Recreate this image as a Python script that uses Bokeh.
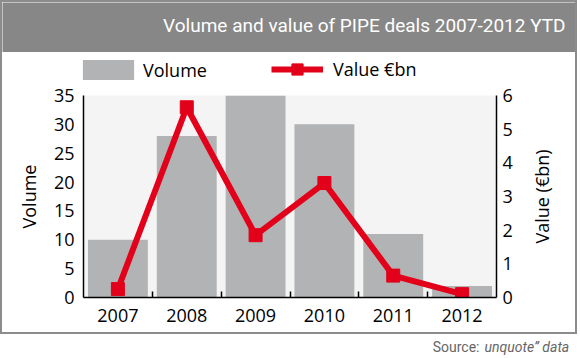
import math
from bokeh.plotting import figure
from bokeh.layouts import column, row
from bokeh.models import (Range1d, LinearAxis, FixedTicker, Legend, LegendItem, Label)
from bokeh.embed import file_html
from bokeh.resources import INLINE

# ---- data ----
years = ["2007", "2008", "2009", "2010", "2011", "2012"]
volume = [10, 28, 35, 30, 11, 2]
value_bn = [0.25, 5.65, 1.85, 3.4, 0.65, 0.1]
volume_ticks = [0, 5, 10, 15, 20, 25, 30, 35]
value_ticks = [0, 1, 2, 3, 4, 5, 6]
title_text = "Volume and value of PIPE deals 2007-2012 YTD"
source_label = "Source:"
source_name = "unquote” data"
series_names = ["Volume", "Value €bn"]
y_title = "Volume"
y2_title = "Value (€bn)"

xs = [i + 0.5 for i in range(len(years))]
boundaries = [i for i in range(1, len(years))]

FONT = "Open Sans"
NARROW = "Roboto"
RED = "#e2001a"
BAR = "#b2b3b4"
HEADER = "#878787"
BOXLINE = "#8c8c8c"

W = 573
MAIN_W = 518
MAIN_H = 249


def blank(height, width=W, bg="white"):
    f = figure(width=width, height=height, output_backend="svg", toolbar_location=None,
               tools="", x_axis_location=None, y_axis_location=None, title_location=None,
               min_border=0, background_fill_color=bg, border_fill_color=bg,
               outline_line_color=None, x_range=Range1d(0, 1), y_range=Range1d(0, 1))
    f.grid.visible = False
    f.frame_align = False
    return f


# ---- header ----
head = blank(50, bg=HEADER)
head.add_layout(Label(x=563, y=27, x_units="screen", y_units="screen", text=title_text,
                      text_align="right", text_baseline="middle", text_color="white",
                      text_font=NARROW, text_font_size="19px"))

# ---- legend strip (hidden copies of the series supply the legend swatches) ----
leg = blank(31)
lg_bar = leg.vbar(x=xs, top=volume, width=0.87, fill_color=BAR, line_color=None, visible=False)
lg_line = leg.line(xs, value_bn, line_color=RED, line_width=6, visible=False)
lg_sq = leg.scatter(xs, value_bn, marker="square", size=12, fill_color=RED, line_color=RED,
                    visible=False)
common = dict(orientation="horizontal", padding=0, margin=0, border_line_color=None,
              background_fill_alpha=0, inactive_fill_alpha=0,
              label_text_font=FONT, label_text_font_size="18px",
              label_text_color="black", label_height=20)
leg.add_layout(Legend(items=[LegendItem(label=series_names[0], renderers=[lg_bar])],
                      location=(74, 1), glyph_width=64, glyph_height=25,
                      label_standoff=3, **common))
leg.add_layout(Legend(items=[LegendItem(label=series_names[1], renderers=[lg_line, lg_sq])],
                      location=(269, 0), glyph_width=52, glyph_height=28,
                      label_standoff=10, **common))

# ---- main chart ----
p = figure(width=MAIN_W, height=MAIN_H, output_backend="svg", toolbar_location=None, tools="",
           title_location=None,
           x_range=Range1d(0, len(years)), y_range=Range1d(volume_ticks[0], volume_ticks[-1]),
           min_border_left=81, min_border_right=24, min_border_top=12, min_border_bottom=35,
           background_fill_color="#f4f4f4", border_fill_color="white",
           outline_line_color=None)
p.xgrid.visible = False
p.ygrid.visible = False
p.extra_y_ranges = {"val": Range1d(value_ticks[0], value_ticks[-1])}

bars = p.vbar(x=xs, top=volume, width=0.87, fill_color=BAR, line_color=None)
ln = p.line(xs, value_bn, y_range_name="val", line_color=RED, line_width=6)
sq = p.scatter(xs, value_bn, y_range_name="val", marker="square", size=13,
               fill_color=RED, line_color=RED)

# x axis
xa = p.xaxis[0]
xa.ticker = FixedTicker(ticks=xs, minor_ticks=boundaries)
xa.major_label_overrides = {x: y for x, y in zip(xs, years)}
xa.major_tick_in = 0
xa.major_tick_out = 0
xa.minor_tick_in = 6
xa.minor_tick_out = 0
xa.minor_tick_line_color = "black"
xa.minor_tick_line_width = 1.5
xa.axis_line_color = "black"
xa.axis_line_width = 1.5
xa.major_label_text_font = FONT
xa.major_label_text_font_size = "18px"
xa.major_label_text_color = "black"
xa.major_label_standoff = 11

# left axis
ya = p.yaxis[0]
ya.ticker = FixedTicker(ticks=volume_ticks)
ya.major_tick_in = 0
ya.major_tick_out = 0
ya.minor_tick_in = 0
ya.minor_tick_out = 0
ya.axis_line_color = "black"
ya.axis_line_width = 1.5
ya.major_label_text_font = FONT
ya.major_label_text_font_size = "18px"
ya.major_label_text_color = "black"
ya.major_label_standoff = 9
ya.axis_label = y_title
ya.axis_label_text_font = FONT
ya.axis_label_text_font_size = "18px"
ya.axis_label_text_font_style = "normal"
ya.axis_label_text_color = "black"
ya.axis_label_standoff = 10

# right axis
ra = LinearAxis(y_range_name="val", ticker=FixedTicker(ticks=value_ticks))
ra.major_tick_in = 0
ra.major_tick_out = 0
ra.minor_tick_in = 0
ra.minor_tick_out = 0
ra.axis_line_color = "black"
ra.axis_line_width = 1.5
ra.major_label_text_font = FONT
ra.major_label_text_font_size = "18px"
ra.major_label_text_color = "black"
ra.major_label_standoff = 6
p.add_layout(ra, "right")

# right axis title (reads bottom-to-top, as in the original)
rt = blank(MAIN_H, width=W - MAIN_W)
rt.add_layout(Label(x=21, y=MAIN_H - 113, x_units="screen", y_units="screen", text=y2_title,
                    angle=math.pi / 2, text_align="center", text_baseline="middle",
                    text_color="black", text_font=FONT, text_font_size="18px"))

# ---- footer ----
foot = blank(24, width=580)
foot.add_layout(Label(x=479, y=12, x_units="screen", y_units="screen", text=source_label,
                      text_align="right", text_baseline="middle", text_color="#666666",
                      text_font=NARROW, text_font_size="14px"))
foot.add_layout(Label(x=484, y=12, x_units="screen", y_units="screen", text=source_name,
                      text_align="left", text_baseline="middle", text_color="#666666",
                      text_font=NARROW, text_font_size="14px", text_font_style="italic"))

box = column(head, leg, row(p, rt), styles={"border": f"2px solid {BOXLINE}"})
layout = column(box, foot)

open("out.html", "w").write(file_html(layout, INLINE))
